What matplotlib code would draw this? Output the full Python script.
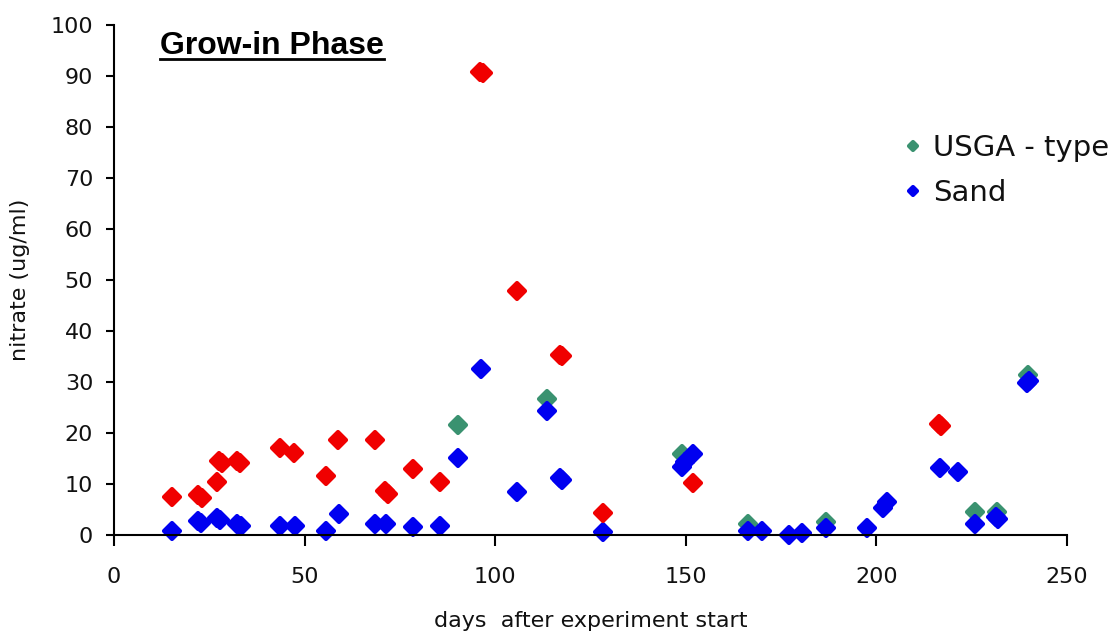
import matplotlib
matplotlib.use("Agg")
import matplotlib.pyplot as plt
from matplotlib.markers import MarkerStyle
from matplotlib.lines import Line2D

# values (days after start, nitrate ug/ml)
red_days = [15.2, 22.0, 23.0, 27.0, 27.5, 28.3, 32.2, 33.0, 43.6, 47.3, 55.7,
            58.8, 68.5, 71.0, 71.8, 78.5, 85.6, 96.0, 96.8, 105.6, 117.0,
            117.6, 128.4, 151.8, 216.3, 216.9]
red_nitrate = [7.4, 7.8, 7.3, 10.3, 14.6, 14.1, 14.5, 14.1, 17.1, 16.1, 11.6,
               18.7, 18.7, 8.6, 8.0, 13.0, 10.4, 90.8, 90.6, 47.9, 35.3,
               35.0, 4.3, 10.2, 21.8, 21.4]

usga_days = [90.3, 113.7, 148.9, 166.2, 186.7, 225.8, 231.6, 239.8]
usga_nitrate = [21.5, 26.6, 15.9, 2.2, 2.6, 4.5, 4.5, 31.4]

sand_days = [15.2, 22.0, 22.9, 26.9, 27.7, 32.4, 33.2, 43.6, 47.5, 55.7, 59.1,
             68.5, 71.4, 78.5, 85.6, 90.3, 96.4, 105.6, 113.7, 117.0, 117.6,
             128.4, 149.0, 149.8, 151.8, 166.2, 169.9, 177.0, 180.4, 186.7,
             197.5, 201.7, 202.8, 216.6, 221.4, 225.8, 231.3, 231.9, 239.6,
             240.0]
sand_nitrate = [0.8, 2.8, 2.4, 3.3, 2.9, 2.2, 1.8, 1.8, 1.8, 0.8, 4.1,
                2.2, 2.2, 1.6, 1.8, 15.1, 32.6, 8.4, 24.4, 11.2, 10.8,
                0.6, 13.4, 14.4, 15.9, 0.8, 0.8, 0.0, 0.4, 1.3,
                1.3, 5.3, 6.4, 13.1, 12.3, 2.1, 3.6, 3.2, 29.8,
                30.2]

x_ticks = [0, 50, 100, 150, 200, 250]
y_ticks = list(range(0, 101, 10))

fig = plt.figure(figsize=(11.13, 6.35), dpi=100)
ax = fig.add_axes([0.1024, 0.1575, 0.8563, 0.8031])

diamond = MarkerStyle("D", joinstyle="round")
mk = dict(linestyle="none", marker=diamond, markersize=8.4,
          markeredgewidth=3.0, clip_on=False)

ax.plot(usga_days, usga_nitrate, color="#3a9270", label="USGA - type", **mk)
ax.plot(sand_days, sand_nitrate, color="#0000f0", label="Sand", **mk)
ax.plot(red_days, red_nitrate, color="#f00000", **mk)

ax.set_xlim(0, 250)
ax.set_ylim(0, 100)
ax.set_xticks(x_ticks)
ax.set_yticks(y_ticks)

for side in ("top", "right"):
    ax.spines[side].set_visible(False)
for side in ("left", "bottom"):
    ax.spines[side].set_linewidth(1.5)
    ax.spines[side].set_color("black")

ax.tick_params(axis="both", direction="out", width=1.5, color="black",
               labelsize=16, labelcolor="#111111")
ax.tick_params(axis="x", length=8, pad=15)
ax.tick_params(axis="y", length=6, pad=9)

ax.set_xlabel("days  after experiment start", fontsize=16, color="#111111")
ax.set_ylabel("nitrate (ug/ml)", fontsize=16, color="#111111")
ax.xaxis.set_label_coords(0.5005, -0.149)
ax.yaxis.set_label_coords(-0.088, 0.5)

# title inside the plot, underlined by hand
title = ax.text(12.1, 94.3, "Grow-in Phase", fontsize=23, fontweight="bold",
                family="Liberation Sans", va="baseline", ha="left")
fig.canvas.draw()
bb = title.get_window_extent(renderer=fig.canvas.get_renderer())
bb = bb.transformed(fig.transFigure.inverted())
uy = 1 - 59 / 635
fig.add_artist(Line2D([bb.x0, bb.x1], [uy, uy], color="black", linewidth=2,
                      transform=fig.transFigure))

leg = ax.legend(loc="upper left", bbox_to_anchor=(0.8138, 0.789),
                bbox_transform=fig.transFigure, frameon=False, fontsize=21,
                markerscale=0.45, handlelength=0.5, handletextpad=0.44,
                borderpad=0, borderaxespad=0, labelspacing=0.6)
for t in leg.get_texts():
    t.set_color("#111111")

fig.savefig("out.png", dpi=100)
